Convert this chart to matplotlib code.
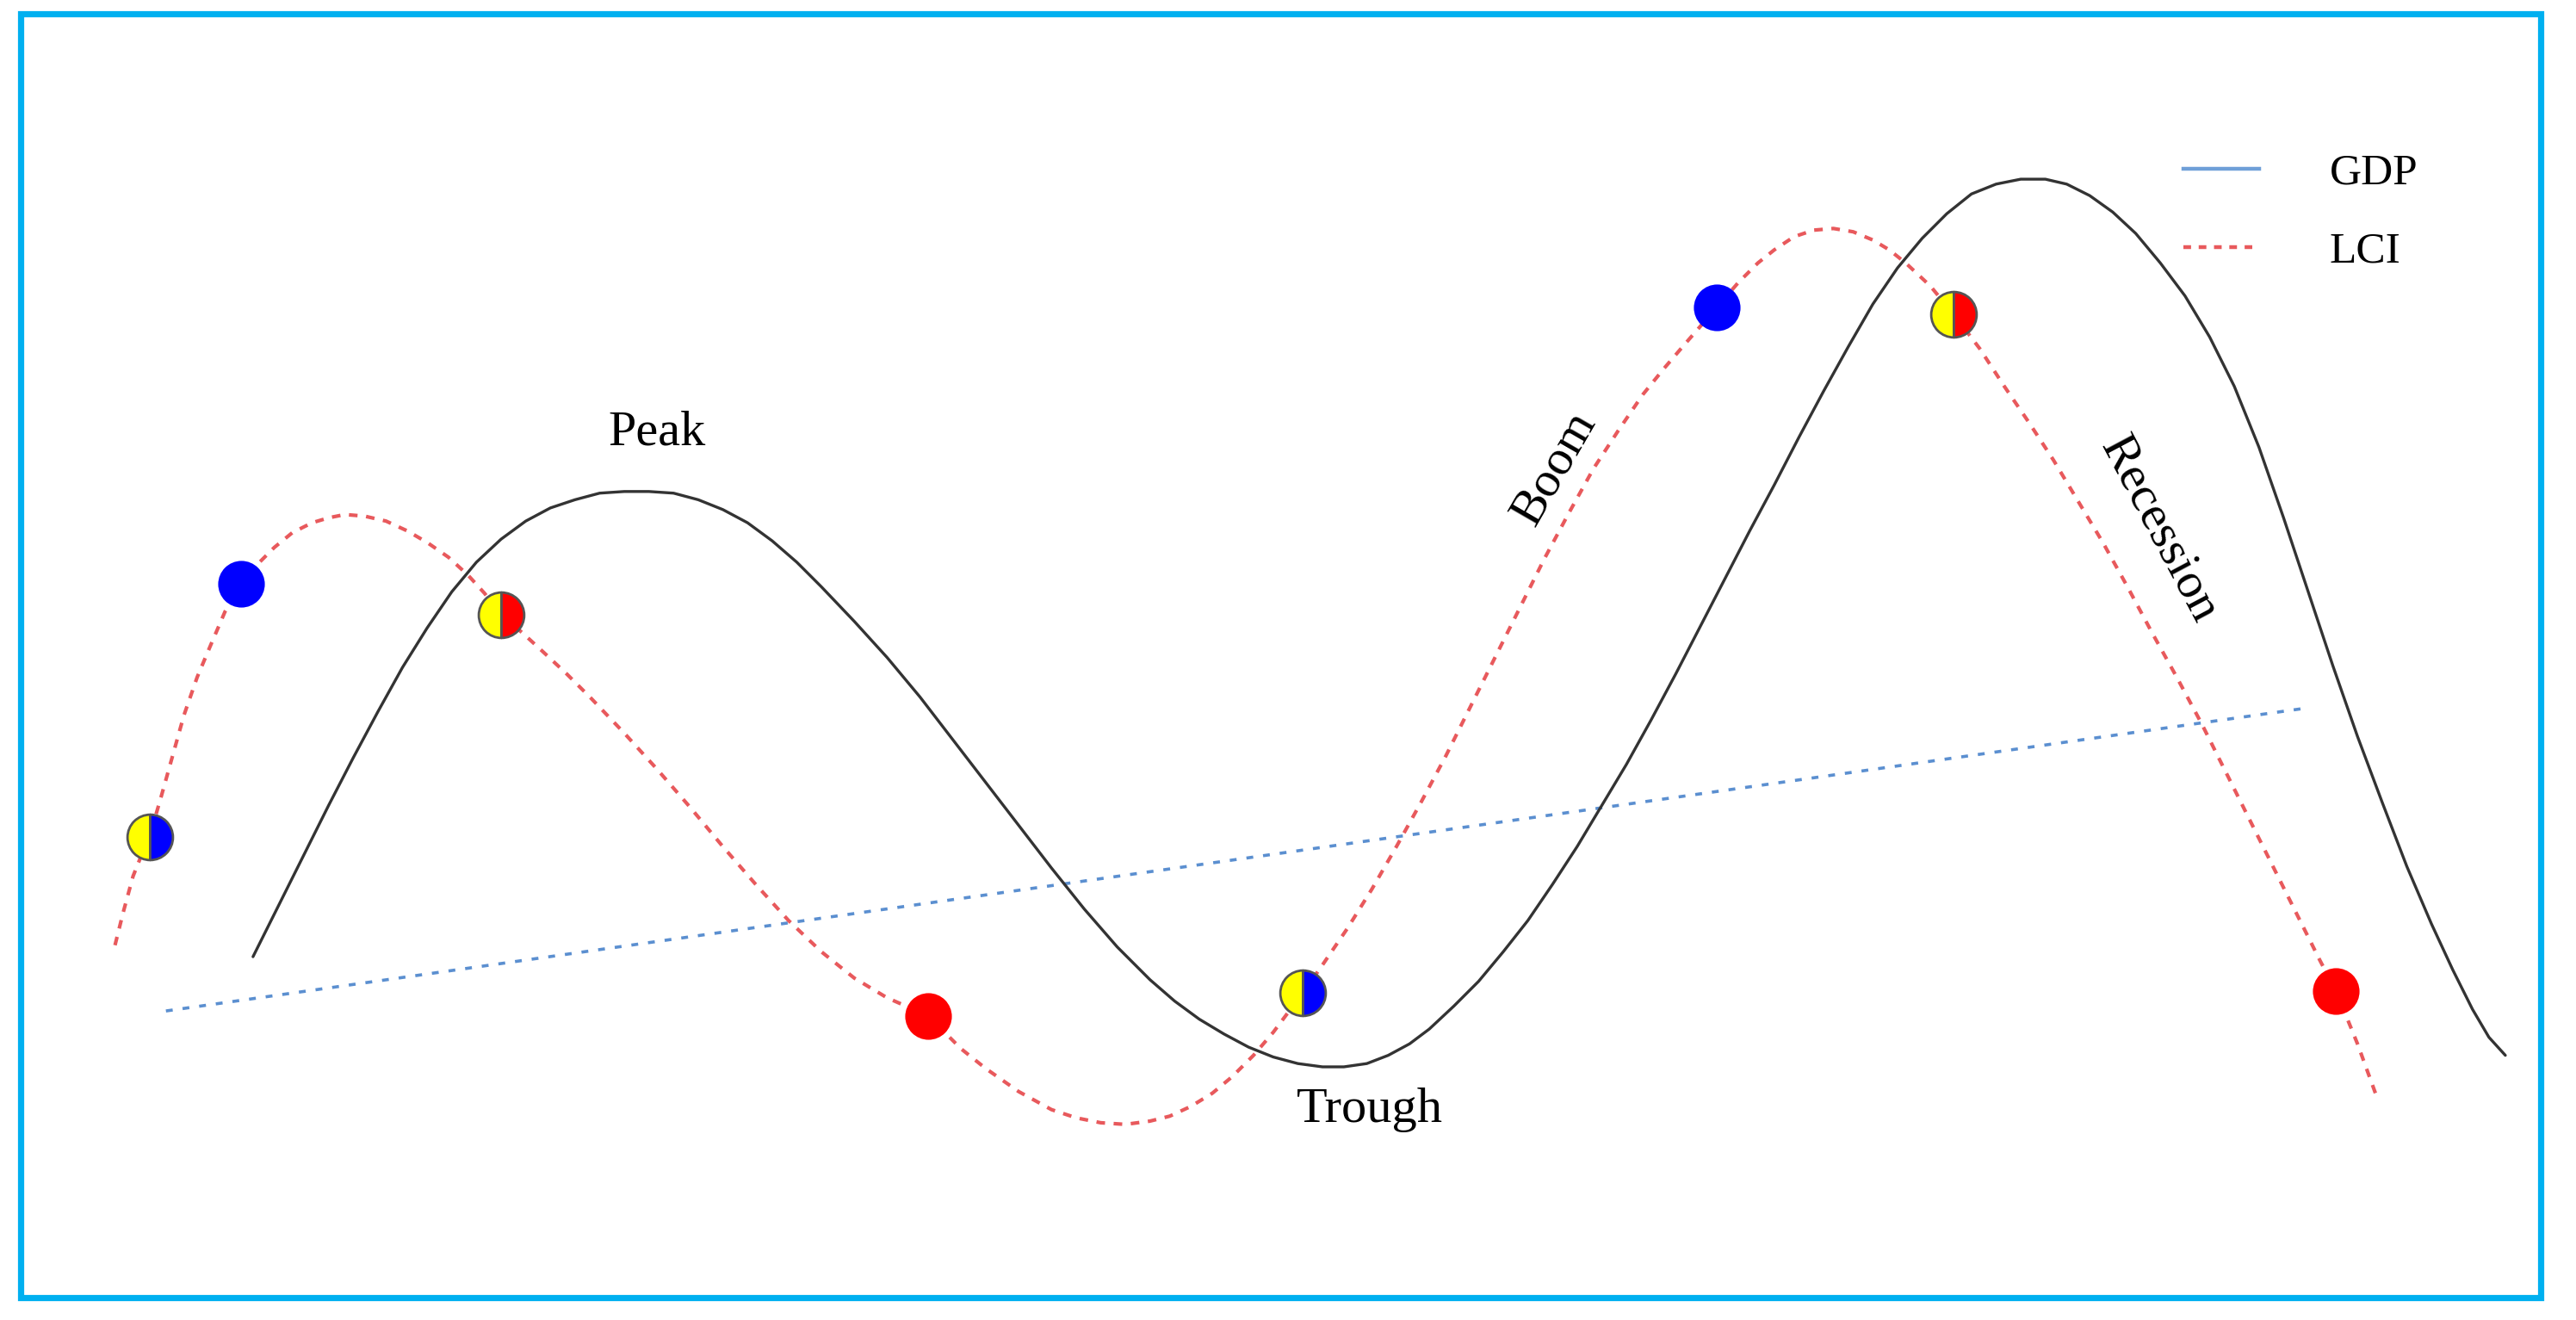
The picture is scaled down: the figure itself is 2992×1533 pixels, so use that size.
import numpy as np
import matplotlib
matplotlib.use("Agg")
import matplotlib.pyplot as plt
from matplotlib.lines import Line2D
from matplotlib.patches import Rectangle

# coordinates (x to the right, y downward, 1568x803 view)
gdp_x = [154, 170, 185, 200, 215, 230, 245, 260, 275, 290, 305, 320, 335, 350,
         365, 380, 395, 410, 425, 440, 455, 470, 485, 500, 520, 540, 560, 580,
         600, 620, 640, 660, 680, 700, 715, 730, 745, 760, 775, 790, 805, 818,
         832, 845, 858, 870, 885, 900, 915, 930, 945, 960, 975, 990, 1005, 1020,
         1035, 1050, 1065, 1080, 1095, 1110, 1125, 1140, 1155, 1170, 1185, 1200,
         1215, 1230, 1245, 1258, 1272, 1286, 1300, 1315, 1330, 1345, 1360, 1375,
         1390, 1405, 1420, 1435, 1450, 1465, 1480, 1493, 1505, 1515, 1525]
gdp_y = [582, 550, 520, 490, 461, 433, 406, 382, 360, 342, 328, 317, 309, 304,
         300, 299, 299, 300, 304, 310, 318, 329, 342, 357, 378, 400, 424, 450,
         476, 502, 528, 553, 576, 596, 609, 620, 629, 637, 643, 647, 649, 649,
         647, 642, 635, 626, 612, 597, 579, 560, 538, 515, 490, 465, 438, 410,
         381, 352, 323, 295, 266, 238, 211, 185, 163, 145, 130, 118,
         112, 109, 109, 112, 119, 129, 142, 160, 180, 205, 235, 272,
         315, 360, 405, 448, 488, 527, 562, 590, 614, 631, 642]

lci_x = [70, 75, 81, 87, 91, 98, 105, 112, 120, 128, 137, 147, 157, 167, 178,
         190, 200, 210, 222, 235, 248, 260, 273, 285, 295, 305, 318, 330, 345,
         360, 380, 400, 420, 440, 460, 480, 500, 520, 540, 565, 585, 600, 620,
         640, 655, 670, 685, 700, 712, 725, 738, 750, 763, 775, 793, 805, 820,
         835, 850, 865, 880, 895, 910, 925, 940, 955, 970, 985, 1000, 1013, 1025,
         1045, 1058, 1070, 1080, 1092, 1104, 1116, 1128, 1140, 1150, 1160, 1175,
         1189, 1205, 1220, 1235, 1250, 1265, 1280, 1295, 1310, 1325, 1340, 1355,
         1370, 1385, 1400, 1412, 1422, 1435, 1447]
lci_y = [575, 555, 533, 518, 509, 485, 460, 435, 412, 393, 372, 355, 343, 333, 324,
         318, 315, 313, 314, 317, 323, 330, 339, 350, 361, 374, 385, 396, 410,
         425, 446, 468, 491, 515, 538, 560, 579, 595, 607, 618, 638, 650, 664,
         675, 680, 683, 684, 682, 679, 673, 665, 655, 642, 628, 604, 587, 565,
         541, 515, 488, 460, 430, 400, 370, 340, 312, 285, 262, 240, 224, 210,
         187, 172, 160, 152, 144, 140, 139, 141, 146, 152, 160, 174,
         191, 212, 235, 257, 280, 305, 330, 357, 385, 412, 440, 470,
         500, 530, 560, 584, 603, 635, 668]

trend_x = [101, 1402]
trend_y = [615, 431]

# phase markers on the LCI curve
mark_x = [91, 147, 305, 565, 793, 1045, 1189, 1422]
mark_y = [509, 355, 374, 618, 604, 187, 191, 603]
mark_kind = ["yb", "b", "yr", "r", "yb", "b", "yr", "r"]

labels = ["Peak", "Trough", "Boom", "Recession"]
label_x = [400, 834, 946, 1314]
label_y = [263, 675, 285, 322]
label_rot = [0, 0, 60, -62]

W, H = 1568, 803

fig = plt.figure(figsize=(14.96, 7.665), dpi=200)
ax = fig.add_axes([0, 0, 1, 1])
ax.set_xlim(0, W)
ax.set_ylim(H, 0)
ax.axis("off")

# frame
fig.patches.append(Rectangle((24 / 2992, 1 - 1507 / 1533), (2951 - 24) / 2992, (1507 - 16) / 1533,
                             transform=fig.transFigure, fill=False,
                             edgecolor="#00B0F0", linewidth=2.6, zorder=0))

ax.plot(trend_x, trend_y, color="#5B8FD0", lw=1.3, dashes=(2.2, 3.2), zorder=2)
ax.plot(gdp_x, gdp_y, color="#333333", lw=1.2, zorder=2,
        solid_capstyle="round", solid_joinstyle="round")
ax.plot(lci_x, lci_y, color="#E8595C", lw=1.5, dashes=(2.4, 2.4), zorder=3)

for x, y, k in zip(mark_x, mark_y, mark_kind):
    if k == "b":
        ax.plot(x, y, "o", ms=19.5, color="#0000FF", mec="none", zorder=4)
    elif k == "r":
        ax.plot(x, y, "o", ms=19.5, color="#FF0000", mec="none", zorder=4)
    else:
        alt = "#0000FF" if k == "yb" else "#FF0000"
        ax.plot(x, y, "o", ms=19, fillstyle="left", mfc="#FFFF00", mfcalt=alt,
                mec="#555555", mew=1.0, zorder=4)

for t, x, y, r in zip(labels, label_x, label_y, label_rot):
    ax.text(x, y, t, fontsize=21, family="Liberation Serif", ha="center", va="center",
            rotation=r, rotation_mode="anchor", zorder=5)

handles = [Line2D([], [], color="#6F9FD8", lw=1.6),
           Line2D([], [], color="#E8595C", lw=1.6, dashes=(2.0, 2.0))]
ax.legend(handles, ["GDP", "LCI"], loc="upper left", bbox_to_anchor=(1305 / W, 1 - 69 / H),
          frameon=False, prop={"family": "Liberation Serif", "size": 18.5},
          handlelength=1.7, handletextpad=1.6, labelspacing=0.85)

fig.savefig("out.png", dpi=200)
